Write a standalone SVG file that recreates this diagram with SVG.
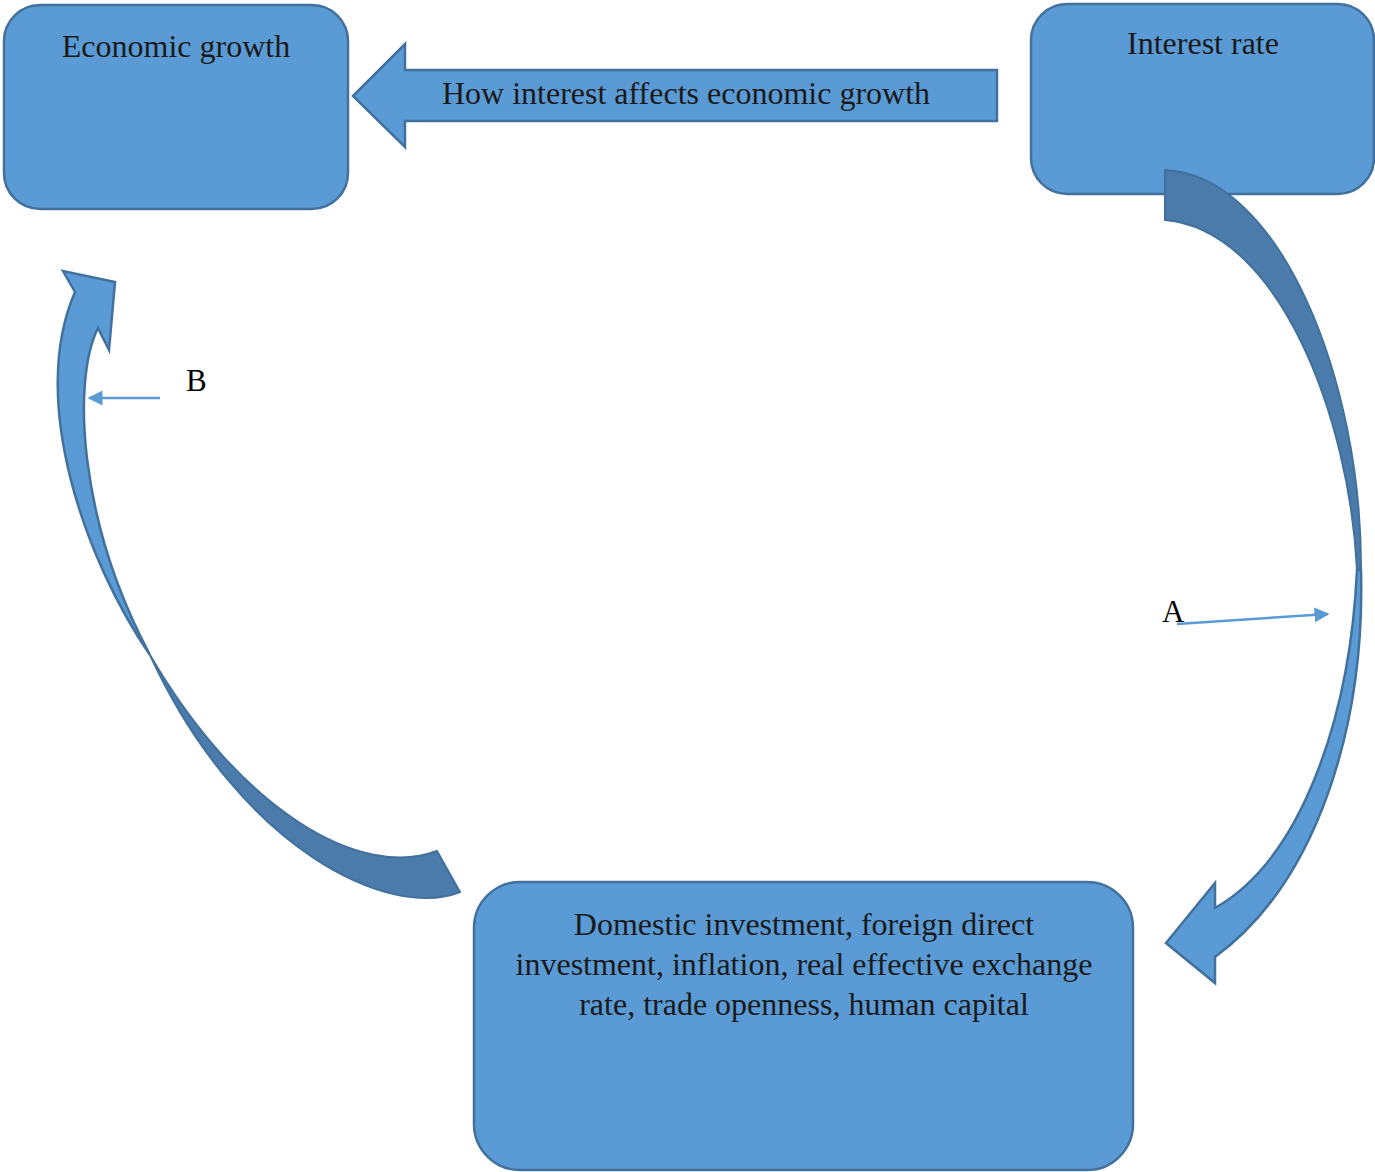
<svg xmlns="http://www.w3.org/2000/svg" width="1375" height="1172" viewBox="0 0 1375 1172">
<defs>
<style>
.box{fill:#5b9bd5;stroke:#41719c;stroke-width:2.5}
.front{fill:#5b9bd5;stroke:#41719c;stroke-width:2.5;stroke-linejoin:miter}
.back{fill:#4a7bab;stroke:#41719c;stroke-width:2}
.t{font-family:"Liberation Serif","Times New Roman",serif;font-size:32px;fill:#1a1a1a;text-anchor:middle}
.lbl{font-family:"Liberation Serif","Times New Roman",serif;font-size:31px;fill:#000}
.thin{stroke:#5b9bd5;stroke-width:2.5;fill:none}
</style>
<marker id="ah" viewBox="0 0 10 10" refX="9" refY="5" markerWidth="6" markerHeight="6" markerUnits="strokeWidth" orient="auto">
<path d="M0,0 L10,5 L0,10 Z" fill="#5b9bd5"/>
</marker>
</defs>
<rect width="1375" height="1172" fill="#fff"/>

<g id="economic-growth">
<rect class="box" x="4" y="5" width="344" height="204" rx="36"/>
<text class="t" x="176" y="57">Economic growth</text>
</g>

<g id="interest-rate">
<rect class="box" x="1031" y="4" width="343" height="190" rx="36"/>
<text class="t" x="1203" y="54">Interest rate</text>
</g>

<g id="determinants">
<rect class="box" x="474" y="882" width="659" height="288" rx="46"/>
<text class="t" x="804" y="935">Domestic investment, foreign direct</text>
<text class="t" x="804" y="975">investment, inflation, real effective exchange</text>
<text class="t" x="804" y="1015">rate, trade openness, human capital</text>
</g>

<g id="connectors">
<g id="arrow-top">
<path class="front" d="M353,96 L405,44 L405,70 L997,70 L997,121 L405,121 L405,147 Z"/>
<text class="t" x="686" y="104">How interest affects economic growth</text>
</g>
<g id="arrow-right">
<path class="back" d="M1165,170 C1280,175 1362,380 1361,570 L1357,570 C1350,420 1280,230 1165,220 Z"/>
<path class="front" d="M1361,570 C1365,720 1320,880 1215,957 L1215,983 L1166,943 L1215,883 L1215,908 C1300,860 1350,720 1357,570 Z"/>
</g>
<g id="arrow-left">
<path class="back" d="M460,892 C390,920 240,850 150,655 C240,810 360,880 437,851 Z"/>
<path class="front" d="M150,655 C85,560 28,400 75,292 L63,271 L115,282 L109,350 L98,328 C72,380 78,520 150,655 Z"/>
</g>
<g id="label-a">
<line class="thin" x1="1177" y1="624" x2="1328" y2="614" marker-end="url(#ah)"/>
<text class="lbl" x="1162" y="622">A</text>
</g>
<g id="label-b">
<line class="thin" x1="160" y1="398" x2="89" y2="398" marker-end="url(#ah)"/>
<text class="lbl" x="186" y="391">B</text>
</g>
</g>
</svg>
